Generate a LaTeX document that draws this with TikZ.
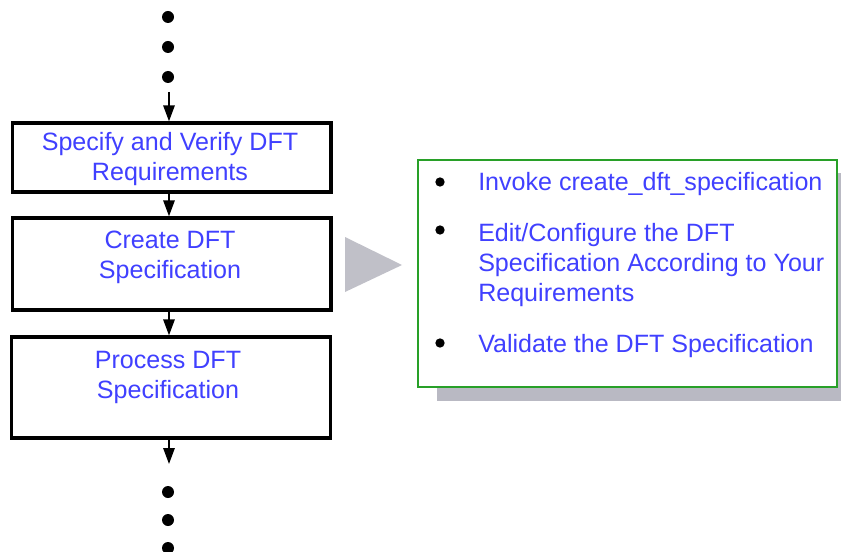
\documentclass[tikz,border=0pt]{standalone}
\usepackage{fontspec}
\setmainfont{Liberation Sans}
\usetikzlibrary{arrows.meta}
\definecolor{txtblue}{RGB}{64,64,255}
\definecolor{boxgreen}{RGB}{40,160,40}
\definecolor{shade}{RGB}{185,185,195}
\definecolor{pointer}{RGB}{192,192,200}
\begin{document}
\begin{tikzpicture}[x=0.75pt,y=-0.75pt,
  stepbox/.style={draw=black,line width=2.5pt,fill=white,minimum width=239pt,inner sep=0pt},
  steptext/.style={text=txtblue,align=center,font=\fontsize{18.8}{22}\selectfont,inner sep=0pt},
  itemtext/.style={text=txtblue,align=left,font=\fontsize{18.8}{22.5}\selectfont,inner sep=0pt,anchor=base west},
  flowdot/.style={circle,fill=black,inner sep=0pt,minimum size=9pt},
  itemdot/.style={circle,fill=black,inner sep=0pt,minimum size=7pt},
  tip/.style={-{Triangle[width=8.5pt,length=12pt]}},
  flow/.style={line width=1.5pt,tip},
  panelbox/.style={inner sep=0pt,minimum width=314.25pt,minimum height=170.25pt}]
\useasboundingbox (0,0) rectangle (841,552);

% continuation dots above the flow
\node[flowdot] (d1) at (168,17) {};
\node[flowdot] (d2) at (168,47) {};
\node[flowdot] (d3) at (168,77) {};
\coordinate (in) at (169,92);

% flow steps
\node[stepbox,minimum height=51.75pt] (b1) at (171.5,157.5) {};
\node[steptext] (t1) at (170,159) {Specify and Verify DFT\\Requirements};

\node[stepbox,minimum height=69pt] (b2) at (171.5,264) {};
\node[steptext] (t2) at (170,257.5) {Create DFT\\Specification};

\node[stepbox,minimum height=75.75pt] (b3) at (171,387.5) {};
\node[steptext] (t3) at (168,377.5) {Process DFT\\Specification};

\coordinate (out) at (169,464);

% continuation dots below the flow
\node[flowdot] (d4) at (168,492) {};
\node[flowdot] (d5) at (168,520) {};
\node[flowdot] (d6) at (168,548) {};

% connectors
\draw[flow] (in) -- (b1.north -| in);
\draw[flow] (b1.south -| in) -- (b2.north -| in);
\draw[flow] (b2.south -| in) -- (b3.north -| in);
\draw[flow] (b3.south -| out) -- (out);

% pointer from the step to its details
\fill[pointer] (345,237) -- (402,265) -- (345,292) -- cycle;

% detail panel with drop shadow
\node[panelbox,fill=shade] (panelshadow) at (646.5,287) {};
\node[panelbox,draw=boxgreen,line width=2.2pt,fill=white] (panel) at (627.5,273.5) {};

\node[itemdot] (i1) at (440,182) {};
\node[itemtext] (s1) at (478,191) {Invoke create\_dft\_specification};
\node[itemdot] (i2) at (440,230) {};
\node[itemtext] (s2) at (478,301) {Edit/Configure the DFT\\Specification According to Your\\Requirements};
\node[itemdot] (i3) at (440,343) {};
\node[itemtext] (s3) at (478,352) {Validate the DFT Specification};
\end{tikzpicture}
\end{document}
